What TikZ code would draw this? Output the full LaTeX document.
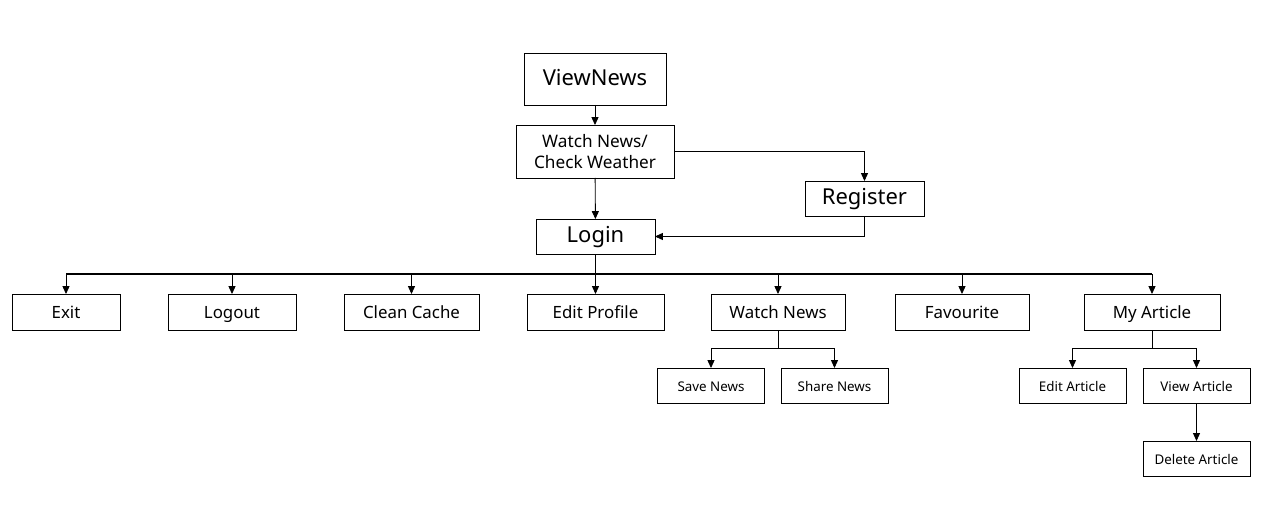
\documentclass[tikz,border=0pt]{standalone}
\usepackage{fontspec}
\setmainfont{Noto Sans}
\usetikzlibrary{arrows.meta,positioning,calc}

\tikzset{
  box/.style={draw,line width=0.5pt,inner sep=0pt,outer sep=0pt,align=center},
  onel/.style={text height=0.75em,text depth=0.05em},
  bigbox/.style={box,onel,font=\fontsize{12.5}{14}\selectfont},
  rowbox/.style={box,onel,minimum height=0.72cm,font=\fontsize{9.6}{11}\selectfont},
  subbox/.style={box,onel,minimum width=2.14cm,minimum height=0.70cm,font=\fontsize{7.6}{9}\selectfont},
  link/.style={line width=0.5pt,-{Triangle[length=4.5pt,width=4pt]}},
  plain/.style={line width=0.5pt}
}

\begin{document}
\begin{tikzpicture}[x=0.02cm,y=-0.02cm]
    \useasboundingbox (0,0) rectangle (1269,531);
    % Top part
    \node[bigbox,minimum width=2.84cm,minimum height=1.04cm] (vn) at (595,79) {ViewNews};
    \node[box,minimum width=3.16cm,minimum height=1.06cm,font=\fontsize{9.8}{12}\selectfont]
      (wncw) at (595,151.5) {Watch News/\\Check Weather};
    \node[bigbox,minimum width=2.38cm,minimum height=0.70cm] (reg) at (864.5,198.5) {Register};
    \node[bigbox,minimum width=2.38cm,minimum height=0.70cm] (login) at (595.5,236.5) {Login};
    \draw[link] (vn) -- (wncw);
    \draw[link] (wncw) -- (login);
    \draw[link] (wncw.east) -| (reg.north);
    \draw[link] (reg.south) |- (login.east);
    % Menu row
    \coordinate (bus) at (0,274);
    \node[rowbox,minimum width=2.16cm] (exit) at (66,312) {Exit};
    \node[rowbox,minimum width=2.56cm] (logout) at (232,312) {Logout};
    \node[rowbox,minimum width=2.70cm] (cache) at (411.5,312) {Clean Cache};
    \node[rowbox,minimum width=2.74cm] (profile) at (595.5,312) {Edit Profile};
    \node[rowbox,minimum width=2.68cm] (wnews) at (778,312) {Watch News};
    \node[rowbox,minimum width=2.68cm] (fav) at (962,312) {Favourite};
    \node[rowbox,minimum width=2.72cm] (myart) at (1152,312) {My Article};
    \draw[plain] (login.south) -- (login |- bus);
    \draw[line width=1.1pt] (exit |- bus) -- (myart |- bus);
    \foreach \n in {exit,logout,cache,profile,wnews,fav,myart}
      \draw[link] (\n |- bus) -- (\n.north);
    % Watch News branch
    \coordinate (wbus) at (0,348);
    \node[subbox] (save) at (711,385.5) {Save News};
    \node[subbox] (share) at (834.5,385.5) {Share News};
    \draw[plain] (wnews.south) -- (wnews |- wbus);
    \draw[plain] (save |- wbus) -- (share |- wbus);
    \foreach \n in {save,share}
      \draw[link] (\n |- wbus) -- (\n.north);
    % My Article branch
    \node[subbox] (editart) at (1072.5,385.5) {Edit Article};
    \node[subbox] (viewart) at (1196.5,385.5) {View Article};
    \node[subbox] (delart) at (1196.5,458.5) {Delete Article};
    \draw[plain] (myart.south) -- (myart |- wbus);
    \draw[plain] (editart |- wbus) -- (viewart |- wbus);
    \foreach \n in {editart,viewart}
      \draw[link] (\n |- wbus) -- (\n.north);
    \draw[link] (viewart) -- (delart);
\end{tikzpicture}
\end{document}
